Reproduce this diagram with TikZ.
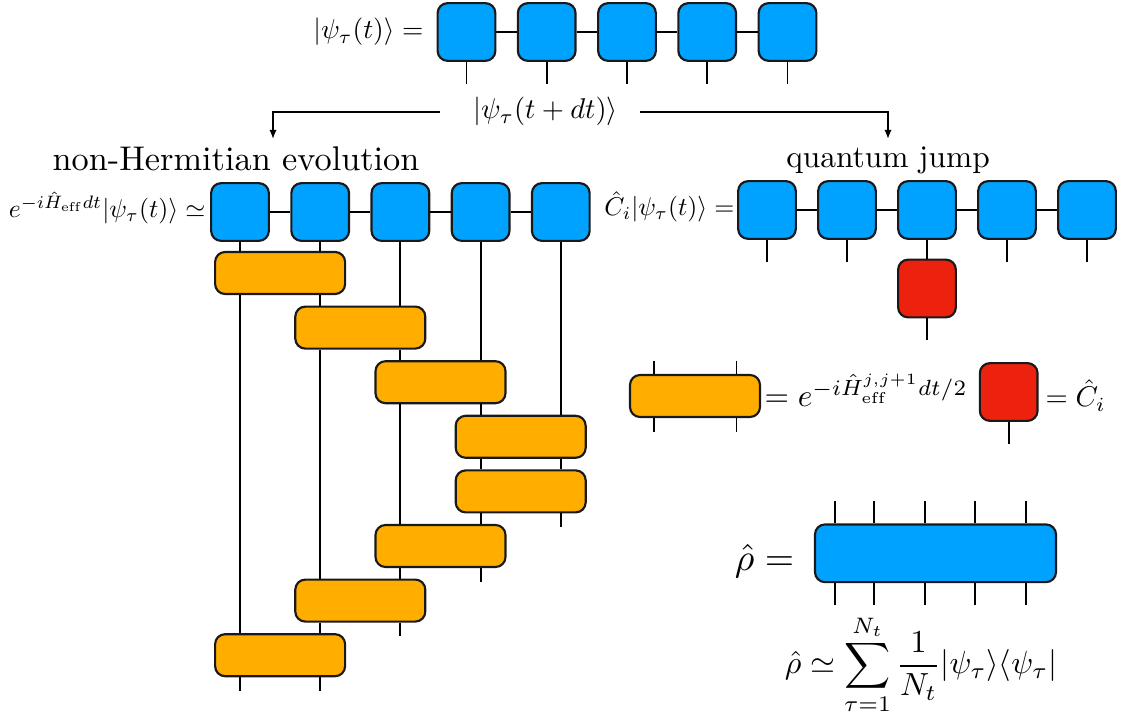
\documentclass[tikz,border=0pt]{standalone}
\usetikzlibrary{arrows.meta,calc}
\definecolor{mpsblue}{RGB}{0,162,255}
\definecolor{gateorange}{RGB}{255,174,0}
\definecolor{jumpred}{RGB}{237,34,14}
\begin{document}
\begin{tikzpicture}[x=0.35pt,y=-0.35pt,
  tensor/.style={draw=black!90,line width=0.75pt,rounded corners=3.5pt,minimum width=20.2pt,minimum height=20.2pt,inner sep=0pt,fill=mpsblue},
  gate/.style={tensor,fill=gateorange,minimum width=45.5pt,minimum height=14.7pt},
  jump/.style={tensor,fill=jumpred},
  leg/.style={line width=0.65pt},
  arr/.style={line width=0.6pt,-{Latex[length=3.2pt,width=2.6pt]}},
  lbl/.style={inner sep=0pt}]
\useasboundingbox (0,0) rectangle (1124,713);

% top MPS
\foreach \i/\x in {1/466.5,2/546.7,3/627,4/707.2,5/787.5}
  \node[tensor] (T\i) at (\x,32) {};
\foreach \i/\j in {1/2,2/3,3/4,4/5} \draw[leg] (T\i) -- (T\j);
\foreach \i in {1,...,5} \draw[leg] (T\i.south) -- ++(0,22);
\node[lbl,anchor=base east,scale=0.96] (topl) at (424,39) {$|\psi_\tau(t)\rangle =$};

% evolution label and arrows
\node[lbl,anchor=base] (dt) at (545.5,119) {$|\psi_\tau(t+dt)\rangle$};
\coordinate (ltip) at (273,139);
\coordinate (rtip) at (888,139);
\draw[arr] ([xshift=-11.5pt,yshift=2.5pt]dt.base west) -| (ltip);
\draw[arr] ([xshift=7.7pt,yshift=2.5pt]dt.base east) -| (rtip);

\node[lbl,anchor=base,scale=1.2] (nh) at (236,171) {non-Hermitian evolution};
\node[lbl,anchor=base,scale=1.1] (qj) at (888,168) {quantum jump};

% left MPS
\foreach \i/\x in {1/240,2/320.2,3/400.4,4/480.6,5/560.8}
  \node[tensor] (L\i) at (\x,212) {};
\foreach \i/\j in {1/2,2/3,3/4,4/5} \draw[leg] (L\i) -- (L\j);
\node[lbl,anchor=base east,scale=0.9] (ll) at (206,218) {$e^{-i\hat H_{\mathrm{eff}}dt}|\psi_\tau(t)\rangle \simeq$};

% gates
\node[gate] (G1) at (280.1,273) {};
\node[gate] (G2) at (360.3,327.6) {};
\node[gate] (G3) at (440.5,382.2) {};
\node[gate] (G4) at (520.7,436.8) {};
\node[gate] (G5) at (520.7,491.4) {};
\node[gate] (G6) at (440.5,546) {};
\node[gate] (G7) at (360.3,600.6) {};
\node[gate] (G8) at (280.1,655.2) {};

% column 1
\draw[leg] (L1.south) -- (G1.north -| L1);
\draw[leg] (G1.south -| L1) -- (G8.north -| L1);
\draw[leg] (G8.south -| L1) -- ++(0,13.5);
% column 2
\draw[leg] (L2.south) -- (G1.north -| L2);
\draw[leg] (G1.south -| L2) -- (G2.north -| L2);
\draw[leg] (G2.south -| L2) -- (G7.north -| L2);
\draw[leg] (G7.south -| L2) -- (G8.north -| L2);
\draw[leg] (G8.south -| L2) -- ++(0,13.5);
% column 3
\draw[leg] (L3.south) -- (G2.north -| L3);
\draw[leg] (G2.south -| L3) -- (G3.north -| L3);
\draw[leg] (G3.south -| L3) -- (G6.north -| L3);
\draw[leg] (G6.south -| L3) -- (G7.north -| L3);
\draw[leg] (G7.south -| L3) -- ++(0,13.5);
% column 4
\draw[leg] (L4.south) -- (G3.north -| L4);
\draw[leg] (G3.south -| L4) -- (G4.north -| L4);
\draw[leg] (G4.south -| L4) -- (G5.north -| L4);
\draw[leg] (G5.south -| L4) -- (G6.north -| L4);
\draw[leg] (G6.south -| L4) -- ++(0,13.5);
% column 5
\draw[leg] (L5.south) -- (G4.north -| L5);
\draw[leg] (G4.south -| L5) -- (G5.north -| L5);
\draw[leg] (G5.south -| L5) -- ++(0,13.5);

% right MPS (quantum jump)
\foreach \i/\x in {1/767,2/847,3/927,4/1007,5/1087}
  \node[tensor] (R\i) at (\x,210) {};
\foreach \i/\j in {1/2,2/3,3/4,4/5} \draw[leg] (R\i) -- (R\j);
\foreach \i in {1,2,4,5} \draw[leg] (R\i.south) -- ++(0,22);
\node[jump] (J) at (927,288.5) {};
\draw[leg] (R3.south) -- (J.north);
\draw[leg] (J.south) -- ++(0,22);
\node[lbl,anchor=base east,scale=0.9] (rl) at (735,216) {$\hat C_i|\psi_\tau(t)\rangle =$};

% legend
\node[gate] (LG) at (695,396) {};
\draw[leg] ([xshift=-14.5pt]LG.north) -- ++(0,-12.5);
\draw[leg] ([xshift=14.5pt]LG.north) -- ++(0,-12.5);
\draw[leg] ([xshift=-14.5pt]LG.south) -- ++(0,13.5);
\draw[leg] ([xshift=14.5pt]LG.south) -- ++(0,13.5);
\node[lbl,anchor=base west,scale=1.1] (lf) at (764,407) {$= e^{-i\hat H^{j,j+1}_{\mathrm{eff}}dt/2}$};
\node[jump] (LJ) at (1008.7,392) {};
\draw[leg] (LJ.south) -- ++(0,22);
\node[lbl,anchor=base west] (lc) at (1045,407) {$=\hat C_i$};

% density matrix
\node[tensor,minimum width=84.35pt] (rho) at (935.5,553.3) {};
\foreach \s in {-35.2,-21.4,-3.7,13.9,31.6} {
  \draw[leg] ([xshift=\s pt]rho.north) -- ++(0,-22);
  \draw[leg] ([xshift=\s pt]rho.south) -- ++(0,22);
}
\node[lbl,anchor=base east,scale=1.32] (rhol) at (795,571) {$\hat\rho =$};
\node[lbl,anchor=base,scale=1.12] (sum) at (921,674) {$\displaystyle \hat\rho \simeq \sum_{\tau=1}^{N_t}\frac{1}{N_t}|\psi_\tau\rangle\langle\psi_\tau|$};
\end{tikzpicture}
\end{document}
